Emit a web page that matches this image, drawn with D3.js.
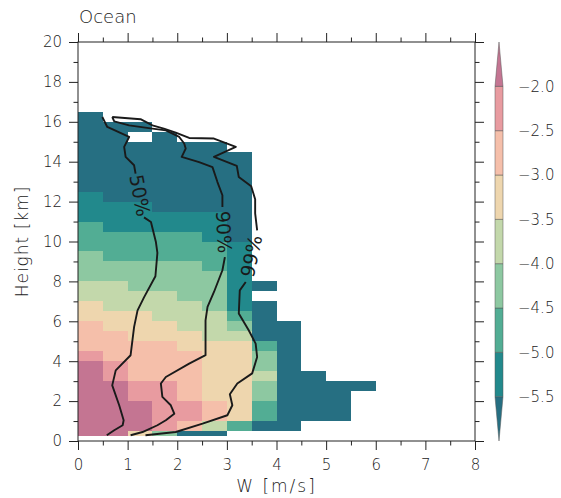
<!DOCTYPE html>
<html>
<head>
<meta charset="utf-8">
<script src="https://cdn.jsdelivr.net/npm/d3@7"></script>
<style>
  body { margin: 0; background: #fff; }
  svg text { font-family: "DejaVu Sans", sans-serif; font-weight: 200; fill: #222; }
</style>
</head>
<body>
<div id="chart"></div>
<script>
// bin edges of the histogram (W in m/s, height in km)
const wEdges = [0, 0.5, 1, 1.5, 2, 2.5, 3, 3.5, 4, 4.5, 5, 5.5, 6];
const hEdges = [0.25, 0.5, 1, 1.5, 2, 2.5, 3, 3.5, 4, 4.5, 5, 5.5, 6, 6.5, 7, 7.5, 8,
  8.5, 9, 9.5, 10, 10.5, 11, 11.5, 12, 12.5, 13, 13.5, 14, 14.5, 15, 15.5, 16, 16.5];

// log10 frequency, one row per height bin (bottom first), one value per W bin
const logFreq = [
  [-1.8, -1.8, -3.2, -4.2, -5.8, -5.8, null, null, null, null, null, null],
  [-1.8, -1.8, -1.8, -2.2, -2.7, -3.7, -4.7, -5.8, -5.8, null, null, null],
  [-1.8, -1.8, -1.8, -2.2, -2.2, -2.7, -3.2, -4.7, -5.8, -5.8, -5.8, null],
  [-1.8, -1.8, -1.8, -2.2, -2.2, -2.7, -3.2, -4.7, -5.8, -5.8, -5.8, null],
  [-1.8, -1.8, -2.2, -2.2, -2.7, -3.2, -3.2, -4.2, -5.8, -5.8, -5.8, null],
  [-1.8, -1.8, -2.2, -2.2, -2.7, -3.2, -3.2, -4.2, -5.8, -5.8, -5.8, -5.8],
  [-1.8, -2.2, -2.7, -2.7, -2.7, -3.2, -3.2, -3.7, -5.8, -5.8, null, null],
  [-1.8, -2.2, -2.7, -2.7, -2.7, -3.2, -3.2, -4.2, -5.8, null, null, null],
  [-2.2, -2.7, -2.7, -2.7, -2.7, -3.2, -3.2, -4.2, -5.8, null, null, null],
  [-2.7, -2.7, -2.7, -2.7, -3.2, -3.2, -3.2, -4.7, -5.8, null, null, null],
  [-2.7, -2.7, -3.2, -3.2, -3.2, -3.7, -3.7, -5.8, -5.8, null, null, null],
  [-2.7, -3.2, -3.2, -3.2, -3.7, -3.7, -4.2, -5.8, -5.8, null, null, null],
  [-3.2, -3.2, -3.2, -3.7, -3.7, -3.7, -4.7, -5.8, null, null, null, null],
  [-3.2, -3.7, -3.7, -3.7, -3.7, -4.2, -5.2, -5.8, null, null, null, null],
  [-3.7, -3.7, -3.7, -3.7, -4.2, -4.2, -5.2, null, null, null, null, null],
  [-3.7, -3.7, -4.2, -4.2, -4.2, -4.2, -5.2, -5.8, null, null, null, null],
  [-4.2, -4.2, -4.2, -4.2, -4.2, -4.2, -5.2, null, null, null, null, null],
  [-4.2, -4.2, -4.2, -4.2, -4.2, -4.7, -5.2, null, null, null, null, null],
  [-4.2, -4.7, -4.7, -4.7, -4.7, -4.7, -5.2, null, null, null, null, null],
  [-4.7, -4.7, -4.7, -4.7, -4.7, -4.7, -5.2, null, null, null, null, null],
  [-4.7, -4.7, -4.7, -4.7, -4.7, -5.2, -5.8, null, null, null, null, null],
  [-4.7, -5.2, -5.2, -5.2, -5.2, -5.2, -5.8, null, null, null, null, null],
  [-5.2, -5.2, -5.2, -5.2, -5.2, -5.2, -5.8, null, null, null, null, null],
  [-5.2, -5.2, -5.2, -5.8, -5.8, -5.8, -5.8, null, null, null, null, null],
  [-5.2, -5.8, -5.8, -5.8, -5.8, -5.8, -5.8, null, null, null, null, null],
  [-5.8, -5.8, -5.8, -5.8, -5.8, -5.8, -5.8, null, null, null, null, null],
  [-5.8, -5.8, -5.8, -5.8, -5.8, -5.8, -5.8, null, null, null, null, null],
  [-5.8, -5.8, -5.8, -5.8, -5.8, -5.8, -5.8, null, null, null, null, null],
  [-5.8, -5.8, -5.8, -5.8, -5.8, -5.8, -5.8, null, null, null, null, null],
  [-5.8, -5.8, -5.8, -5.8, -5.8, -5.8, null, null, null, null, null, null],
  [-5.8, -5.8, null, -5.8, null, null, null, null, null, null, null, null],
  [-5.8, -5.8, -5.8, null, null, null, null, null, null, null, null, null],
  [-5.8, null, null, null, null, null, null, null, null, null, null, null]
];

// colour levels and fills
const levels = [-5.5, -5.0, -4.5, -4.0, -3.5, -3.0, -2.5, -2.0];
const fills = ["#266f82", "#22898c", "#52ad94", "#8dc8a1", "#c3d8ab",
  "#eed6ae", "#f5bfaa", "#e89ba0", "#c47592"];

// percentile lines [W, height]; null marks where the label sits
const p50 = [[0.49, 16.24], [0.59, 15.74], [1.03, 15.24], [0.93, 14.74], [0.96, 14.24],
  [1.13, 13.82], [1.16, 13.40], null, [1.33, 11.21], [1.47, 10.98], [1.57, 9.97],
  [1.60, 9.43], [1.56, 8.26], [1.33, 7.20], [1.20, 6.55], [1.13, 5.71], [1.06, 4.30],
  [0.76, 3.54], [0.69, 2.79], [0.83, 1.79], [0.92, 1.04], [0.90, 0.79], [0.73, 0.54],
  [0.58, 0.29]];
const p90 = [[0.69, 16.24], [0.73, 16.02], [1.03, 15.82], [1.50, 15.66], [1.77, 15.57],
  [2.04, 15.24], [2.14, 14.91], [2.17, 14.66], [2.09, 14.24], [2.44, 13.98], [2.71, 13.73],
  [2.81, 12.98], [2.91, 12.32], [2.91, 11.73], null, [2.96, 9.22], [2.91, 8.56],
  [2.74, 7.47], [2.61, 6.72], [2.57, 6.05], [2.57, 4.30], [2.24, 3.88], [1.77, 3.21],
  [1.67, 2.88], [1.70, 2.21], [1.87, 1.79], [1.94, 1.37], [1.77, 1.04], [1.60, 0.79],
  [1.30, 0.45], [1.06, 0.29]];
const p99 = [[0.69, 16.24], [1.26, 16.13], [1.50, 15.82], [1.73, 15.66], [1.97, 15.46],
  [2.24, 15.19], [2.74, 15.16], [3.18, 14.74], [2.74, 14.24], [3.20, 13.79], [3.24, 13.23],
  [3.49, 12.77], [3.57, 12.12], [3.57, 11.41], [3.61, 10.56], null, [3.38, 7.97],
  [3.26, 7.55], [3.24, 6.39], [3.44, 5.55], [3.58, 4.88], [3.61, 4.21], [3.51, 3.39],
  [3.21, 2.88], [3.06, 2.34], [3.11, 1.79], [3.01, 1.29], [2.51, 0.87], [1.97, 0.45],
  [1.36, 0.29]];
const lineNames = ["50%", "90%", "99%"];

const width = 561, height = 498;
const mLeft = 78, mRight = 475, mTop = 42, mBottom = 441;

const svg = d3.select("#chart").append("svg")
  .attr("width", width)
  .attr("height", height);

const x = d3.scaleLinear().domain([0, 8]).range([mLeft, mRight]);
const y = d3.scaleLinear().domain([0, 20]).range([mBottom, mTop]);
const color = d3.scaleThreshold().domain(levels).range(fills);

// histogram cells
const cells = [];
logFreq.forEach((row, i) => row.forEach((v, j) => {
  if (v !== null) cells.push({ i, j, v });
}));

svg.append("g")
  .attr("shape-rendering", "crispEdges")
  .selectAll("rect")
  .data(cells)
  .enter()
  .append("rect")
  .attr("x", d => x(wEdges[d.j]))
  .attr("y", d => y(hEdges[d.i + 1]))
  .attr("width", d => x(wEdges[d.j + 1]) - x(wEdges[d.j]))
  .attr("height", d => y(hEdges[d.i]) - y(hEdges[d.i + 1]))
  .attr("fill", d => color(d.v));

// percentile lines with labels in the gaps
const line = d3.line()
  .defined(d => d !== null)
  .x(d => x(d[0]))
  .y(d => y(d[1]));

[p50, p90, p99].forEach((pts, k) => {
  svg.append("path")
    .attr("d", line(pts))
    .attr("fill", "none")
    .attr("stroke", "#1a1a1a")
    .attr("stroke-width", 1.9)
    .attr("stroke-linejoin", "round");

  const g = pts.indexOf(null);
  const a = pts[g - 1], b = pts[g + 1];
  const x0 = x(a[0]), y0 = y(a[1]), x1 = x(b[0]), y1 = y(b[1]);
  let ang = Math.atan2(y1 - y0, x1 - x0) * 180 / Math.PI;
  if (ang > 90) ang -= 180;
  if (ang < -90) ang += 180;
  svg.append("text")
    .attr("transform", `translate(${(x0 + x1) / 2},${(y0 + y1) / 2}) rotate(${ang})`)
    .attr("text-anchor", "middle")
    .attr("dy", "0.35em")
    .style("font-size", "19px")
    .style("font-weight", "normal")
    .style("fill", "#1a1a1a")
    .text(lineNames[k]);
});

// axes: major + minor ticks on all four sides
const xMaj = d3.range(0, 9, 1), xMin = d3.range(0.5, 8, 1);
const yMaj = d3.range(0, 21, 2), yMin = d3.range(1, 20, 2);

const axes = [
  [() => d3.axisBottom(x), `translate(0,${mBottom})`, xMaj, xMin, true, 9],
  [() => d3.axisTop(x), `translate(0,${mTop})`, xMaj, xMin, false, 0],
  [() => d3.axisLeft(y), `translate(${mLeft},0)`, yMaj, yMin, true, 7],
  [() => d3.axisRight(y), `translate(${mRight},0)`, yMaj, yMin, false, 0]
];
axes.forEach(([make, tr, maj, min, lab, pad]) => {
  const gMaj = svg.append("g").attr("transform", tr)
    .call(make().tickValues(maj).tickSize(9).tickPadding(pad)
      .tickFormat(lab ? d3.format("d") : ""));
  const gMin = svg.append("g").attr("transform", tr)
    .call(make().tickValues(min).tickSize(4.5).tickFormat(""));
  [gMaj, gMin].forEach(g => {
    g.select(".domain").remove();
    g.selectAll("line").attr("stroke", "#222");
    g.selectAll("text").style("font-size", "15px").attr("fill", "#222");
  });
});

svg.append("rect")
  .attr("x", mLeft).attr("y", mTop)
  .attr("width", mRight - mLeft).attr("height", mBottom - mTop)
  .attr("fill", "none").attr("stroke", "#222").attr("stroke-width", 1);

// titles
svg.append("text")
  .attr("x", mLeft + 1).attr("y", 23)
  .style("font-size", "18px")
  .text("Ocean");

svg.append("text")
  .attr("x", (mLeft + mRight) / 2).attr("y", 492)
  .attr("text-anchor", "middle")
  .style("font-size", "17px")
  .style("letter-spacing", "2px")
  .text("W [m/s]");

svg.append("text")
  .attr("transform", `translate(28,${(mTop + mBottom) / 2}) rotate(-90)`)
  .attr("text-anchor", "middle")
  .style("font-size", "17px")
  .style("letter-spacing", "1px")
  .text("Height [km]");

// colour bar with triangular ends
const cbX = 495, cbW = 8;
const seg = d3.scaleLinear().domain([0, fills.length]).range([mBottom, mTop]);
const cb = svg.append("g");
fills.forEach((c, k) => {
  const yb = seg(k), yt = seg(k + 1), xm = cbX + cbW / 2;
  let d;
  if (k === 0) d = `M${cbX},${yt}L${cbX + cbW},${yt}L${xm},${yb}Z`;
  else if (k === fills.length - 1) d = `M${cbX},${yb}L${cbX + cbW},${yb}L${xm},${yt}Z`;
  else d = `M${cbX},${yb}L${cbX + cbW},${yb}L${cbX + cbW},${yt}L${cbX},${yt}Z`;
  cb.append("path").attr("d", d).attr("fill", c)
    .attr("stroke", "#555").attr("stroke-width", 0.5);
});
levels.forEach((v, k) => {
  cb.append("text")
    .attr("x", 518).attr("y", seg(k + 1))
    .attr("dy", "0.35em")
    .style("font-size", "15px")
    .text(d3.format(".1f")(v));
});
</script>
</body>
</html>
